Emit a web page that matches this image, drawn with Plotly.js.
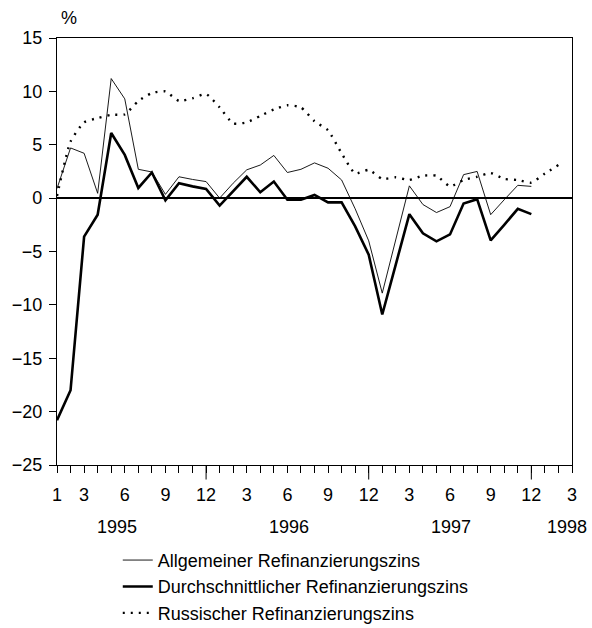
<!DOCTYPE html>
<html>
<head>
<meta charset="utf-8">
<script src="https://cdn.plot.ly/plotly-3.0.1.min.js"></script>
<style>html,body{margin:0;padding:0;background:#fff;}#chart{width:592px;height:628px;}</style>
</head>
<body>
<div id="chart"></div>
<script>
// Months Jan 1995 (index 0) .. Mar 1998 (index 38)
const tickMonths = ["1","3","6","9","12","3","6","9","12","3","6","9","12","3"];
const tickIndex  = [0, 2, 5, 8, 11, 14, 17, 20, 23, 26, 29, 32, 35, 38];
const years = ["1995","1996","1997","1998"];

const seriesNames = [
  "Allgemeiner Refinanzierungszins",
  "Durchschnittlicher Refinanzierungszins",
  "Russischer Refinanzierungszins"
];

const allgemeiner = [0.9, 4.7, 4.2, 0.45, 11.2, 9.3, 2.7, 2.45, 0.35, 2.0, 1.75, 1.55,
  0.0, 1.4, 2.65, 3.1, 4.0, 2.4, 2.7, 3.3, 2.8, 1.7, -1.0, -4.0,
  -8.9, -3.9, 1.15, -0.6, -1.35, -0.8, 2.2, 2.5, -1.55, -0.15, 1.2, 1.1];

const durchschnitt = [-20.8, -18.0, -3.6, -1.55, 6.1, 4.05, 0.95, 2.4, -0.2, 1.4, 1.1, 0.85,
  -0.7, 0.6, 2.0, 0.55, 1.55, -0.15, -0.15, 0.3, -0.4, -0.4, -2.65, -5.3,
  -10.9, -6.2, -1.5, -3.3, -4.05, -3.4, -0.5, -0.1, -3.95, -2.5, -1.0, -1.5];

const russisch = [0.2, 5.3, 7.1, 7.5, 7.8, 7.85, 9.1, 9.85, 10.0, 9.1, 9.35, 9.75,
  8.5, 7.0, 7.1, 7.7, 8.3, 8.7, 8.5, 7.2, 6.35, 4.2, 2.3, 2.65,
  1.8, 1.95, 1.7, 2.1, 2.1, 1.1, 1.7, 2.0, 2.35, 1.8, 1.7, 1.45,
  2.3, 3.1];

const idx = arr => arr.map((_, i) => i);
const FONT = "Liberation Sans, Arial, Helvetica, sans-serif";
const FS = 18;

const traces = [
  {x: idx(allgemeiner), y: allgemeiner, name: seriesNames[0], type: "scatter", mode: "lines",
   line: {color: "#000", width: 0.9}, legendgroup: "a"},
  {x: idx(durchschnitt), y: durchschnitt, name: seriesNames[1], type: "scatter", mode: "lines",
   line: {color: "#000", width: 2.6}, legendgroup: "b"},
  {x: idx(russisch), y: russisch, name: seriesNames[2], type: "scatter", mode: "lines",
   line: {color: "#000", width: 2.4, dash: "2px,6px", shape: "spline", smoothing: 0.5}, legendgroup: "c"}
];

const yearPos = [4.4, 17.1, 29.1, 37.6];
const annotations = years.map((t, i) => ({
  x: yearPos[i], y: -0.145, xref: "x", yref: "paper", text: t, showarrow: false,
  font: {family: FONT, size: FS, color: "#000"}, xanchor: "center", yanchor: "middle"
}));
annotations.push({x: 0.024, y: 1.046, xref: "paper", yref: "paper", text: "%", showarrow: false,
  font: {family: FONT, size: FS, color: "#000"}, xanchor: "center", yanchor: "middle"});

const longTicks = [11, 23, 35].map(v => ({
  type: "line", xref: "x", yref: "paper", x0: v, x1: v, y0: 0, y1: -0.034,
  line: {color: "#000", width: 1}
}));

const layout = {
  width: 592, height: 628,
  margin: {l: 57, r: 20, t: 38, b: 163, autoexpand: false},
  paper_bgcolor: "#fff", plot_bgcolor: "#fff",
  font: {family: FONT, size: FS, color: "#000"},
  showlegend: true,
  legend: {x: 0.118, xanchor: "left", y: -0.18, yanchor: "top", traceorder: "normal",
    tracegroupgap: 0, itemwidth: 30, font: {family: FONT, size: FS, color: "#000"},
    bgcolor: "rgba(0,0,0,0)"},
  xaxis: {
    range: [0, 38], tickmode: "array", tickvals: tickIndex, ticktext: tickMonths,
    ticks: "outside", ticklen: 7, tickwidth: 1, tickcolor: "#000", ticklabelstandoff: 6,
    minor: {dtick: 1, tick0: 0, ticks: "outside", ticklen: 7, tickcolor: "#000", showgrid: false},
    showline: true, linecolor: "#000", linewidth: 1.2, mirror: true,
    showgrid: false, zeroline: false, fixedrange: true,
    tickfont: {family: FONT, size: FS, color: "#000"}
  },
  yaxis: {
    range: [-25, 15], dtick: 5, tick0: 0,
    ticks: "outside", ticklen: 7, tickwidth: 1, tickcolor: "#000", ticklabelstandoff: 3,
    showline: true, linecolor: "#000", linewidth: 1.2, mirror: true,
    showgrid: false, zeroline: true, zerolinecolor: "#000", zerolinewidth: 1.5,
    tickfont: {family: FONT, size: FS, color: "#000"}
  },
  annotations: annotations,
  shapes: longTicks
};

Plotly.newPlot("chart", traces, layout, {staticPlot: true, displayModeBar: false});
</script>
</body>
</html>
